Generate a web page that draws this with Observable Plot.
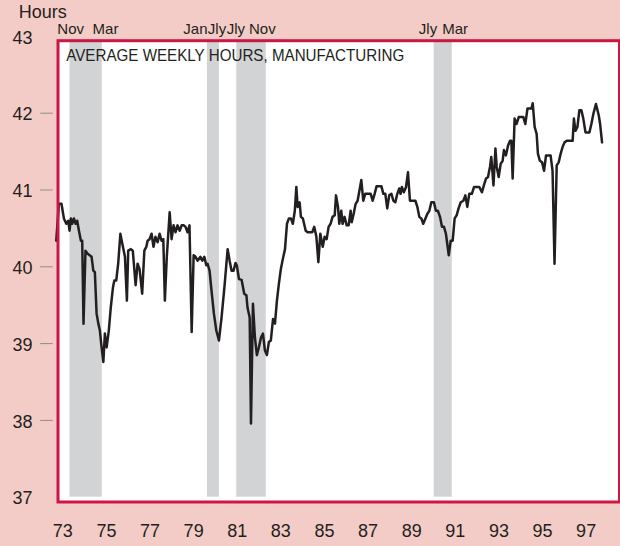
<!DOCTYPE html>
<html>
<head>
<meta charset="utf-8">
<script src="https://cdn.jsdelivr.net/npm/d3@7"></script>
<script src="https://cdn.jsdelivr.net/npm/@observablehq/plot@0.6"></script>
<style>
  html, body { margin: 0; padding: 0; background: #f4ccc7; }
  svg { display: block; }
</style>
</head>
<body>
<div id="chart"></div>
<script>
// Average weekly hours, manufacturing (decimal year, hours)
const dates = [
  1973.17,1973.29,1973.41,1973.52,1973.63,1973.72,1973.78,1973.84,1973.90,1973.98,
  1974.06,1974.13,1974.21,1974.30,1974.36,1974.42,1974.51,1974.61,1974.70,1974.79,
  1974.87,1974.94,1975.02,1975.10,1975.17,1975.25,1975.33,1975.40,1975.48,1975.58,
  1975.67,1975.77,1975.83,1975.92,1976.01,1976.11,1976.20,1976.32,1976.41,1976.47,
  1976.59,1976.68,1976.81,1976.90,1976.99,1977.11,1977.21,1977.30,1977.36,1977.45,
  1977.54,1977.63,1977.72,1977.82,1977.91,1978.00,1978.08,1978.15,1978.24,1978.37,
  1978.46,1978.55,1978.64,1978.73,1978.83,1978.92,1979.01,1979.10,1979.19,1979.28,
  1979.38,1979.47,1979.56,1979.65,1979.78,1979.87,1979.96,1980.05,1980.11,1980.20,
  1980.29,1980.40,1980.51,1980.63,1980.75,1980.88,1981.03,1981.12,1981.21,1981.30,
  1981.39,1981.45,1981.55,1981.67,1981.79,1981.89,1981.94,1982.04,1982.10,1982.19,
  1982.28,1982.37,1982.46,1982.56,1982.65,1982.74,1982.83,1982.92,1983.01,1983.11,
  1983.20,1983.29,1983.38,1983.47,1983.56,1983.66,1983.75,1983.84,1983.93,1984.02,
  1984.11,1984.18,1984.24,1984.33,1984.39,1984.48,1984.61,1984.70,1984.82,1984.91,
  1985.00,1985.10,1985.19,1985.28,1985.39,1985.48,1985.57,1985.66,1985.75,1985.84,
  1985.94,1986.00,1986.09,1986.15,1986.24,1986.30,1986.39,1986.49,1986.58,1986.67,
  1986.72,1986.81,1986.90,1986.99,1987.16,1987.25,1987.34,1987.46,1987.59,1987.68,
  1987.77,1987.86,1987.99,1988.08,1988.17,1988.26,1988.35,1988.44,1988.54,1988.63,
  1988.72,1988.81,1988.90,1988.96,1989.02,1989.11,1989.21,1989.30,1989.39,1989.51,
  1989.64,1989.73,1989.82,1989.91,1990.00,1990.10,1990.19,1990.28,1990.37,1990.49,
  1990.58,1990.67,1990.77,1990.86,1990.95,1991.04,1991.17,1991.26,1991.35,1991.44,
  1991.53,1991.62,1991.72,1991.84,1991.93,1992.02,1992.11,1992.23,1992.33,1992.45,
  1992.57,1992.69,1992.78,1992.88,1992.97,1993.06,1993.12,1993.22,1993.31,1993.37,
  1993.46,1993.55,1993.64,1993.70,1993.79,1993.89,1993.98,1994.04,1994.10,1994.19,
  1994.28,1994.38,1994.47,1994.59,1994.68,1994.78,1994.87,1994.96,1995.02,1995.11,
  1995.20,1995.26,1995.35,1995.45,1995.54,1995.63,1995.75,1995.84,1995.93,1996.02,
  1996.12,1996.21,1996.30,1996.39,1996.48,1996.58,1996.67,1996.76,1996.85,1996.91,
  1996.98,1997.07,1997.16,1997.25,1997.34,1997.44,1997.53,1997.62,1997.71,1997.80,
  1997.92,1998.05,1998.11,1998.20
];
const hours = [
  40.34,40.82,40.82,40.63,40.56,40.60,40.47,40.63,40.56,40.63,
  40.56,40.60,40.47,40.34,40.34,39.26,40.21,40.17,40.15,40.13,
  39.95,39.93,39.39,39.26,39.17,38.95,38.76,39.13,38.95,39.17,
  39.47,39.73,39.82,39.82,40.04,40.43,40.30,40.13,39.56,40.21,
  40.23,40.21,39.76,40.04,39.97,39.65,40.21,40.26,40.34,40.36,
  40.43,40.26,40.39,40.32,40.43,40.34,40.36,39.56,40.13,40.71,
  40.36,40.54,40.45,40.54,40.47,40.54,40.54,40.52,40.45,40.54,
  39.15,40.15,40.13,40.08,40.13,40.08,40.13,40.02,40.04,39.95,
  39.69,39.39,39.17,39.04,39.34,39.73,40.23,40.08,39.95,39.95,
  40.05,40.02,39.84,39.83,39.65,39.63,39.47,39.34,37.96,39.52,
  39.08,38.85,38.95,39.08,39.13,38.91,38.85,39.02,39.04,39.32,
  39.26,39.56,39.78,39.97,40.10,40.23,40.56,40.63,40.63,40.56,
  40.73,41.04,40.78,40.84,40.65,40.63,40.47,40.45,40.45,40.45,
  40.52,40.39,40.06,40.43,40.26,40.39,40.36,40.52,40.56,40.65,
  40.67,40.93,40.78,40.56,40.73,40.56,40.65,40.54,40.54,40.73,
  40.58,40.69,40.82,40.86,41.13,40.86,40.95,40.95,40.95,40.86,
  40.95,41.05,41.05,41.05,40.95,40.95,40.76,40.93,40.95,40.86,
  40.84,40.95,41.02,40.95,41.04,40.97,41.04,41.23,40.86,40.86,
  40.86,40.78,40.65,40.63,40.56,40.63,40.69,40.73,40.84,40.84,
  40.73,40.73,40.65,40.52,40.52,40.43,40.15,40.34,40.34,40.63,
  40.67,40.76,40.84,40.86,40.93,40.78,40.95,40.95,41.04,41.04,
  41.04,40.97,41.06,41.15,41.17,41.30,41.43,41.06,41.54,41.30,
  41.17,41.34,41.38,41.52,41.45,41.58,41.64,41.64,41.15,41.93,
  41.86,41.95,41.95,41.95,41.86,42.06,42.06,42.06,42.13,41.82,
  41.73,41.47,41.38,41.36,41.25,41.45,41.45,41.45,41.25,40.04,
  41.32,41.36,41.47,41.56,41.62,41.64,41.64,41.64,41.64,41.93,
  41.77,41.82,42.04,42.04,41.93,41.75,41.75,41.75,41.86,41.99,
  42.12,41.97,41.86,41.62
];

// Recessions (shaded)
const recStart = [1973.80, 1980.10, 1981.45, 1990.50];
const recEnd   = [1975.28, 1980.65, 1982.80, 1991.33];
const recLabels = ["Nov", "Mar", "Jan", "Jly", "Jly", "Nov", "Jly", "Mar"];
const recLabelDates = [1973.83, 1975.43, 1979.55, 1980.54, 1981.41, 1982.62, 1990.22, 1991.46];

const xTickYears = [1973,1975,1977,1979,1981,1983,1985,1987,1989,1991,1993,1995,1997];
const yTickLabels = [37,38,39,40,41,42,43];
const yTickMarks = [38,39,40,41,42];
const titleText = "AVERAGE WEEKLY HOURS, MANUFACTURING";
const unitText = "Hours";

const series = dates.map((d, i) => ({date: d, hours: hours[i]}));
const recessions = recStart.map((s, i) => ({start: s, end: recEnd[i]}));
const recText = recLabels.map((t, i) => ({label: t, date: recLabelDates[i]}));

const ink = "#231f20";
const font = "'Liberation Sans', Arial, Helvetica, sans-serif";

const chart = Plot.plot({
  width: 620,
  height: 546,
  marginLeft: 57.5,
  marginRight: 1,
  marginTop: 35.9,
  marginBottom: 49.3,
  style: {background: "#f4ccc7", fontFamily: font, color: ink, overflow: "visible"},
  x: {domain: [1973.25, 1999], axis: null, label: null},
  y: {domain: [37, 43], axis: null, label: null},
  marks: [
    Plot.frame({fill: "white", stroke: null, insetTop: 4.3, insetBottom: -4.8}),
    Plot.rect(recessions, {x1: "start", x2: "end", fill: "#d1d3d4", insetTop: 5.4}),
    Plot.line(series, {x: "date", y: "hours", stroke: ink, strokeWidth: 2.5, strokeLinejoin: "round"}),
    Plot.frame({stroke: "#cc1744", strokeWidth: 3, insetTop: 4.3, insetBottom: -4.8}),
    Plot.axisY({ticks: yTickMarks, tickSize: 12.5, dx: -4.8, stroke: "#8c8c8c", label: null, tickFormat: () => ""}),
    Plot.axisY({ticks: yTickLabels, tickSize: 0, tickPadding: 25.5, fontSize: 18, dy: 1.5, label: null, tickFormat: d => String(d), fill: ink}),
    Plot.axisX({ticks: xTickYears.map(y => y + 0.47), tickSize: 0, tickPadding: 27.3, fontSize: 18, fill: ink, label: null,
      tickFormat: d => String(Math.round(d - 0.47)).slice(2)}),
    Plot.text(recText, {x: "date", text: "label", frameAnchor: "top", lineAnchor: "middle", dy: -7.4, fontSize: 15, fill: ink}),
    Plot.text([unitText], {text: d => d, frameAnchor: "top-left", lineAnchor: "middle", textAnchor: "start", dx: -39.2, dy: -24.2, fontSize: 18, fill: ink}),
    Plot.text([titleText], {text: d => d, frameAnchor: "top-left", lineAnchor: "middle", textAnchor: "start", dx: 8.2, dy: 19.2, fontSize: 17, fill: ink})
  ]
});

document.getElementById("chart").appendChild(chart);
chart.querySelectorAll("text").forEach(t => {
  if (t.textContent === titleText) {
    t.setAttribute("textLength", "338");
    t.setAttribute("lengthAdjust", "spacingAndGlyphs");
  }
});
</script>
</body>
</html>
